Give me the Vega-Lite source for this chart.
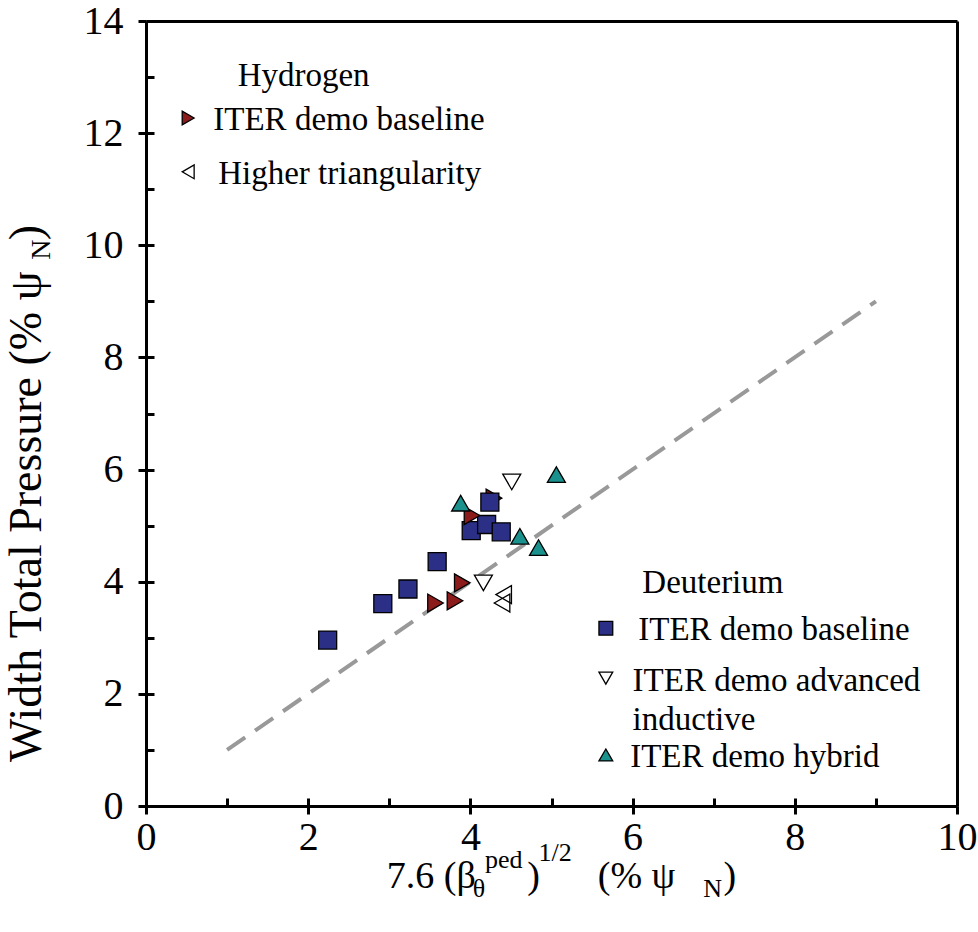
{
  "$schema": "https://vega.github.io/schema/vega-lite/v6.json",
  "width": 811,
  "height": 785,
  "autosize": {"type": "none"},
  "padding": {"left": 146, "top": 21, "right": 21, "bottom": 126},
  "background": "white",
  "config": {
    "view": {"stroke": null},
    "font": "Liberation Serif",
    "axis": {"grid": false, "labelFont": "Liberation Serif", "labelFontSize": 40, "labelColor": "black", "domainColor": "black", "tickColor": "black", "domainWidth": 3, "tickWidth": 3, "title": null}
  },
  "datasets": {
    "pts": [
      {"x": 2.24, "y": 2.96, "series": "D baseline"},
      {"x": 2.92, "y": 3.61, "series": "D baseline"},
      {"x": 3.23, "y": 3.87, "series": "D baseline"},
      {"x": 3.59, "y": 4.36, "series": "D baseline"},
      {"x": 4.01, "y": 4.91, "series": "D baseline"},
      {"x": 4.20, "y": 5.02, "series": "D baseline"},
      {"x": 4.38, "y": 4.89, "series": "D baseline"},
      {"x": 3.90, "y": 3.98, "series": "H baseline"},
      {"x": 3.57, "y": 3.62, "series": "H baseline"},
      {"x": 3.81, "y": 3.66, "series": "H baseline"},
      {"x": 4.02, "y": 5.18, "series": "H baseline"},
      {"x": 4.29, "y": 5.49, "series": "H baseline"},
      {"x": 4.24, "y": 5.42, "series": "D baseline"},
      {"x": 3.88, "y": 5.40, "series": "D hybrid"},
      {"x": 5.06, "y": 5.91, "series": "D hybrid"},
      {"x": 4.61, "y": 4.81, "series": "D hybrid"},
      {"x": 4.84, "y": 4.61, "series": "D hybrid"},
      {"x": 4.51, "y": 5.78, "series": "D advanced inductive"},
      {"x": 4.16, "y": 3.98, "series": "D advanced inductive"},
      {"x": 4.41, "y": 3.77, "series": "H higher triangularity"},
      {"x": 4.39, "y": 3.62, "series": "H higher triangularity"}
    ],
    "fit": [{"x": 1, "y": 1}, {"x": 9, "y": 9}],
    "legsym": [
      {"x": 0.52, "y": 12.27, "series": "H baseline"},
      {"x": 0.52, "y": 11.31, "series": "H higher triangularity"},
      {"x": 5.67, "y": 3.17, "series": "D baseline"},
      {"x": 5.67, "y": 2.28, "series": "D advanced inductive"},
      {"x": 5.67, "y": 0.91, "series": "D hybrid"}
    ],
    "legtext": [
      {"x": 1.13, "y": 13.02, "label": "Hydrogen"},
      {"x": 0.83, "y": 12.23, "label": "ITER demo baseline"},
      {"x": 0.89, "y": 11.27, "label": "Higher triangularity"},
      {"x": 6.12, "y": 3.98, "label": "Deuterium"},
      {"x": 6.07, "y": 3.14, "label": "ITER demo baseline"},
      {"x": 6.0, "y": 2.23, "label": "ITER demo advanced"},
      {"x": 6.0, "y": 1.53, "label": "inductive"},
      {"x": 5.97, "y": 0.87, "label": "ITER demo hybrid"}
    ]
  },
  "resolve": {"axis": {"x": "independent", "y": "independent"}},
  "layer": [
    {
      "data": {"name": "fit"},
      "mark": {"type": "line", "color": "#999999", "strokeWidth": 4, "strokeDash": [22, 12]},
      "encoding": {
        "x": {"field": "x", "type": "quantitative", "scale": {"domain": [0, 10], "nice": false, "zero": false}, "axis": {"orient": "bottom", "values": [0, 2, 4, 6, 8, 10], "tickSize": 8, "labelPadding": 3, "labelFontSize": 40, "labelFont": "Liberation Serif", "labelFlush": false, "labelOverlap": false}},
        "y": {"field": "y", "type": "quantitative", "scale": {"domain": [0, 14], "nice": false, "zero": false}, "axis": {"orient": "left", "values": [0, 2, 4, 6, 8, 10, 12, 14], "tickSize": 8, "labelPadding": 15, "labelFontSize": 40, "labelFont": "Liberation Serif", "labelFlush": false, "labelOverlap": false}}
      }
    },
    {
      "data": {"name": "pts"},
      "mark": {"type": "point", "filled": true, "size": 324, "strokeWidth": 1.3, "opacity": 1},
      "encoding": {
        "x": {"field": "x", "type": "quantitative", "axis": {"orient": "bottom", "values": [0, 1, 2, 3, 4, 5, 6, 7, 8, 9, 10], "tickSize": -8, "labels": false, "domain": false}},
        "y": {"field": "y", "type": "quantitative", "axis": {"orient": "left", "values": [0, 1, 2, 3, 4, 5, 6, 7, 8, 9, 10, 11, 12, 13, 14], "tickSize": -8, "labels": false, "domain": false}},
        "shape": {"field": "series", "type": "nominal", "legend": null, "scale": {"domain": ["H baseline", "H higher triangularity", "D baseline", "D advanced inductive", "D hybrid"], "range": ["triangle-right", "triangle-left", "square", "triangle-down", "triangle-up"]}},
        "fill": {"field": "series", "type": "nominal", "legend": null, "scale": {"domain": ["H baseline", "H higher triangularity", "D baseline", "D advanced inductive", "D hybrid"], "range": ["#8c1c1c", "transparent", "#2b2f86", "white", "#1a918c"]}},
        "stroke": {"value": "black"}
      }
    },
    {
      "data": {"name": "legsym"},
      "mark": {"type": "point", "filled": true, "size": 190, "strokeWidth": 1.3, "opacity": 1},
      "encoding": {
        "x": {"field": "x", "type": "quantitative", "axis": {"orient": "top", "ticks": false, "labels": false, "domain": true}},
        "y": {"field": "y", "type": "quantitative", "axis": {"orient": "right", "ticks": false, "labels": false, "domain": true}},
        "shape": {"field": "series", "type": "nominal", "legend": null},
        "fill": {"field": "series", "type": "nominal", "legend": null},
        "stroke": {"value": "black"}
      }
    },
    {
      "data": {"name": "legtext"},
      "mark": {"type": "text", "align": "left", "baseline": "middle", "font": "Liberation Serif", "fontSize": 33, "color": "black"},
      "encoding": {
        "x": {"field": "x", "type": "quantitative", "axis": null},
        "y": {"field": "y", "type": "quantitative", "axis": null},
        "text": {"field": "label"}
      }
    },
    {
      "data": {"values": [
        {"x": 2.97, "y": -1.47, "t": "7.6 (β"},
        {"x": 4.70, "y": -1.47, "t": ")"},
        {"x": 5.57, "y": -1.47, "t": "(% ψ"},
        {"x": 7.12, "y": -1.47, "t": ")"}
      ]},
      "mark": {"type": "text", "align": "left", "baseline": "alphabetic", "font": "Liberation Serif", "fontSize": 38, "color": "black", "clip": false},
      "encoding": {
        "x": {"field": "x", "type": "quantitative", "axis": null},
        "y": {"field": "y", "type": "quantitative", "axis": null},
        "text": {"field": "t"}
      }
    },
    {
      "data": {"values": [
        {"x": 4.03, "y": -1.63, "t": "θ"},
        {"x": 4.18, "y": -1.1, "t": "ped"},
        {"x": 4.84, "y": -0.98, "t": "1/2"},
        {"x": 6.87, "y": -1.63, "t": "N"}
      ]},
      "mark": {"type": "text", "align": "left", "baseline": "alphabetic", "font": "Liberation Serif", "fontSize": 26, "color": "black", "clip": false},
      "encoding": {
        "x": {"field": "x", "type": "quantitative", "axis": null},
        "y": {"field": "y", "type": "quantitative", "axis": null},
        "text": {"field": "t"}
      }
    },
    {
      "data": {"values": [
        {"x": -1.295, "y": 0.785, "t": "Width Total Pressure (% ψ"},
        {"x": -1.295, "y": 10.09, "t": ")"}
      ]},
      "mark": {"type": "text", "align": "left", "baseline": "alphabetic", "angle": 270, "font": "Liberation Serif", "fontSize": 46, "color": "black", "clip": false},
      "encoding": {
        "x": {"field": "x", "type": "quantitative", "axis": null},
        "y": {"field": "y", "type": "quantitative", "axis": null},
        "text": {"field": "t"}
      }
    },
    {
      "data": {"values": [
        {"x": -1.18, "y": 9.74, "t": "N"}
      ]},
      "mark": {"type": "text", "align": "left", "baseline": "alphabetic", "angle": 270, "font": "Liberation Serif", "fontSize": 28, "color": "black", "clip": false},
      "encoding": {
        "x": {"field": "x", "type": "quantitative", "axis": null},
        "y": {"field": "y", "type": "quantitative", "axis": null},
        "text": {"field": "t"}
      }
    }
  ]
}
